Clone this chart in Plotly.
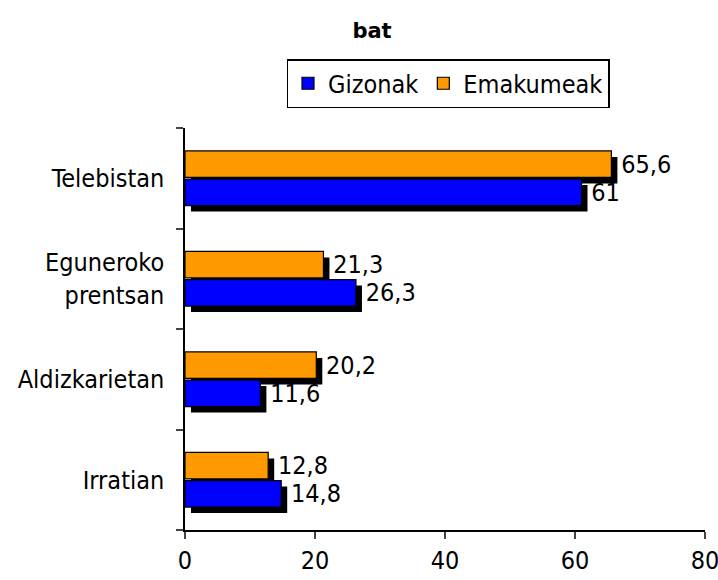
import plotly.graph_objects as go

categories = ["Irratian", "Aldizkarietan", "Eguneroko<br>prentsan", "Telebistan"]
gizonak = [14.8, 11.6, 26.3, 61]
emakumeak = [12.8, 20.2, 21.3, 65.6]
series_names = ["Gizonak", "Emakumeak"]
x_ticks = [0, 20, 40, 60, 80]

W, H = 718, 580
L, T, R, B = 185, 128, 7, 44
SH = 6
pw = W - L - R
ph = H - T - B

FONT = "DejaVu Sans Condensed, DejaVu Sans"
FS = 25

def lab(v):
    return "\u2009\u200a" + f"{v:g}".replace(".", ",")

fig = go.Figure()
# shadows (drawn first, on hidden axes shifted by a few pixels)
for vals in (gizonak, emakumeak):
    fig.add_trace(go.Bar(y=categories, x=vals, orientation="h",
                         marker=dict(color="black", line=dict(width=0)),
                         showlegend=False, hoverinfo="skip",
                         xaxis="x", yaxis="y"))
colors = ["#0000FF", "#FF9900"]
for name, vals, c in zip(series_names, (gizonak, emakumeak), colors):
    fig.add_trace(go.Bar(y=categories, x=vals, orientation="h", name=name,
                         marker=dict(color=c, line=dict(color="black", width=1.2)),
                         text=[lab(v) for v in vals], textposition="outside",
                         textfont=dict(color="black", size=FS, family=FONT),
                         cliponaxis=False, constraintext="none",
                         xaxis="x2", yaxis="y2"))

fig.update_layout(
    width=W, height=H,
    margin=dict(l=L, r=R, t=T, b=B, autoexpand=False),
    paper_bgcolor="white", plot_bgcolor="rgba(0,0,0,0)",
    font=dict(family=FONT, size=FS, color="black"),
    barmode="group", bargap=0.44, bargroupgap=0.06,
    title=dict(text="<b>bat</b>", xref="container", yref="container",
               x=372 / W, y=1 - 31 / H, xanchor="center", yanchor="middle",
               font=dict(size=21, family="DejaVu Sans", color="black")),
    legend=dict(orientation="h", x=0.5, xanchor="center",
                y=1 + (T - 59) / ph, yanchor="top",
                bordercolor="black", borderwidth=1.5,
                font=dict(size=FS, family=FONT), traceorder="normal",
                itemwidth=30),
    xaxis=dict(domain=[SH / pw, 1], range=[0, 80], visible=False, anchor="y"),
    yaxis=dict(domain=[0, 1 - SH / ph], visible=False, anchor="x",
               type="category", categoryorder="array", categoryarray=categories),
    xaxis2=dict(domain=[0, 1 - SH / pw], range=[0, 80], anchor="y2",
                tickvals=x_ticks, ticks="outside", ticklen=7, tickwidth=1.5,
                showline=True, linecolor="black", linewidth=1.5,
                showgrid=False, zeroline=False, tickfont=dict(size=FS),
                automargin=False, ticklabeloverflow="allow"),
    yaxis2=dict(domain=[SH / ph, 1], anchor="x2", type="category",
                categoryorder="array", categoryarray=categories,
                ticks="outside", ticklen=7, tickwidth=1.5, tickson="boundaries",
                showline=True, linecolor="black", linewidth=1.5,
                showgrid=False, tickfont=dict(size=FS), ticklabelstandoff=14,
                automargin=False),
)

fig.write_html("out.html", config={"displayModeBar": False},
               post_script="document.body.style.margin='0';document.body.style.overflow='hidden';")
